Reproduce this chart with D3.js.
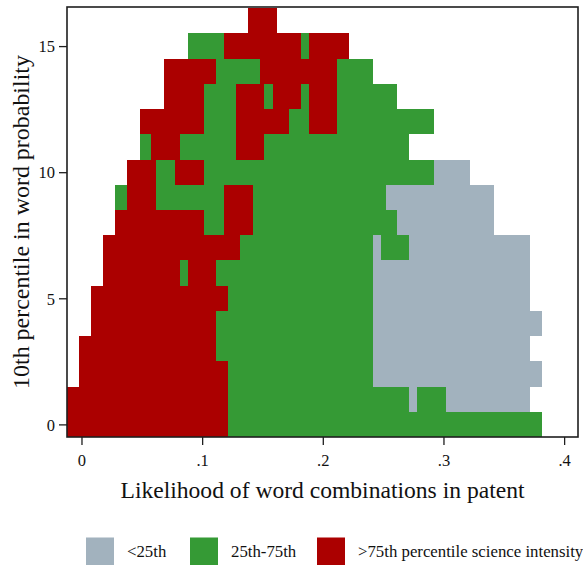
<!DOCTYPE html>
<html>
<head>
<meta charset="utf-8">
<script src="https://cdn.jsdelivr.net/npm/d3@7"></script>
<style>
  html, body { margin: 0; padding: 0; background: #fff; }
  svg { display: block; font-family: "Liberation Serif", "DejaVu Serif", serif; }
</style>
</head>
<body>
<svg id="chart" width="583" height="568"></svg>
<script>
// ---- data ----
const categories = ["<25th", "25th-75th", ">75th percentile science intensity"];
const categoryColors = ["#a2b2be", "#359a35", "#ab0000"];
const xTicks = [0, 0.1, 0.2, 0.3, 0.4];
const xTickLabels = ["0", ".1", ".2", ".3", ".4"];
const yTicks = [0, 5, 10, 15];
const yTickLabels = ["0", "5", "10", "15"];
const xTitle = "Likelihood of word combinations in patent";
const yTitle = "10th percentile in word probability";

// row value (y) -> segments [x start, x end, category index]
const rowValues = [0,1,2,3,4,5,6,7,8,9,10,11,12,13,14,15,16];
const rowSegments = [
  [[-0.012,0.1216,2],[0.1216,0.3819,1]],
  [[-0.012,0.1216,2],[0.1216,0.2716,1],[0.2716,0.2783,0],[0.2783,0.3018,1],[0.3018,0.3717,0]],
  [[-0.002,0.1216,2],[0.1216,0.2418,1],[0.2418,0.3819,0]],
  [[-0.002,0.1116,2],[0.1116,0.2418,1],[0.2418,0.3717,0]],
  [[0.0083,0.1116,2],[0.1116,0.2418,1],[0.2418,0.3819,0]],
  [[0.0083,0.1216,2],[0.1216,0.2418,1],[0.2418,0.3717,0]],
  [[0.0181,0.0815,2],[0.0815,0.0881,1],[0.0881,0.1116,2],[0.1116,0.2418,1],[0.2418,0.3717,0]],
  [[0.0181,0.1315,2],[0.1315,0.2418,1],[0.2418,0.2482,0],[0.2482,0.2716,1],[0.2716,0.3717,0]],
  [[0.0280,0.1014,2],[0.1014,0.1180,1],[0.1180,0.1418,2],[0.1418,0.2617,1],[0.2617,0.3419,0]],
  [[0.0280,0.0381,1],[0.0381,0.0614,2],[0.0614,0.1180,1],[0.1180,0.1418,2],[0.1418,0.2521,1],[0.2521,0.3419,0]],
  [[0.0381,0.0614,2],[0.0614,0.0779,1],[0.0779,0.1014,2],[0.1014,0.2919,1],[0.2919,0.3220,0]],
  [[0.0481,0.0580,1],[0.0580,0.0815,2],[0.0815,0.1279,1],[0.1279,0.1514,2],[0.1514,0.2716,1]],
  [[0.0481,0.1014,2],[0.1014,0.1279,1],[0.1279,0.1716,2],[0.1716,0.1885,1],[0.1885,0.2114,2],[0.2114,0.2919,1]],
  [[0.0685,0.1014,2],[0.1014,0.1279,1],[0.1279,0.1514,2],[0.1514,0.1584,1],[0.1584,0.1818,2],[0.1818,0.1885,1],[0.1885,0.2114,2],[0.2114,0.2617,1]],
  [[0.0685,0.1116,2],[0.1116,0.1478,1],[0.1478,0.2114,2],[0.2114,0.2418,1]],
  [[0.0884,0.1180,1],[0.1180,0.1818,2],[0.1818,0.1885,1],[0.1885,0.2219,2]],
  [[0.1381,0.1617,2]]
];

// ---- layout ----
const svg = d3.select("#chart");
const plot = { left: 67, right: 578, top: 7, bottom: 437 };
const x = d3.scaleLinear().domain([-0.012, 0.4115]).range([plot.left, plot.right]);
const y = d3.scaleLinear().domain([-0.5, 16.55]).range([plot.bottom, plot.top]);
const axisColor = "#1e1e1e";

const cells = [];
rowValues.forEach((rv, i) => {
  rowSegments[i].forEach(s => cells.push({ y: rv, x0: s[0], x1: s[1], c: s[2] }));
});

svg.append("g")
  .attr("shape-rendering", "crispEdges")
  .selectAll("rect")
  .data(cells)
  .join("rect")
  .attr("x", d => x(d.x0))
  .attr("width", d => x(d.x1) - x(d.x0))
  .attr("y", d => y(d.y + 0.5))
  .attr("height", d => y(d.y - 0.5) - y(d.y + 0.5))
  .attr("fill", d => categoryColors[d.c]);

// frame
svg.append("rect")
  .attr("x", plot.left).attr("y", plot.top)
  .attr("width", plot.right - plot.left).attr("height", plot.bottom - plot.top)
  .attr("fill", "none").attr("stroke", axisColor).attr("stroke-width", 1.6);

// axes
const xAxis = d3.axisBottom(x).tickValues(xTicks)
  .tickFormat((d, i) => xTickLabels[i]).tickSize(8).tickPadding(9);
const gx = svg.append("g").attr("transform", `translate(0,${plot.bottom})`).call(xAxis);
gx.select(".domain").remove();
gx.selectAll(".tick line").attr("stroke", axisColor).attr("stroke-width", 1.3);
gx.selectAll(".tick text").attr("fill", "#111").attr("font-size", 16.5)
  .attr("font-family", "Liberation Serif");

const yAxis = d3.axisLeft(y).tickValues(yTicks)
  .tickFormat((d, i) => yTickLabels[i]).tickSize(8).tickPadding(4);
const gy = svg.append("g").attr("transform", `translate(${plot.left},0)`).call(yAxis);
gy.select(".domain").remove();
gy.selectAll(".tick line").attr("stroke", axisColor).attr("stroke-width", 1.3);
gy.selectAll(".tick text").attr("fill", "#111").attr("font-size", 16.5)
  .attr("font-family", "Liberation Serif").attr("dy", "0.35em");

// axis titles
function fit(sel, target) {
  const w = sel.node().getComputedTextLength();
  const fs = parseFloat(sel.attr("font-size"));
  sel.attr("font-size", (fs * target / w).toFixed(2));
}
const xt = svg.append("text")
  .attr("x", (plot.left + plot.right) / 2).attr("y", 498)
  .attr("text-anchor", "middle").attr("font-size", 20).attr("fill", "#111")
  .text(xTitle);
fit(xt, 404);

const yt = svg.append("text")
  .attr("transform", `translate(29,${(plot.top + plot.bottom) / 2}) rotate(-90)`)
  .attr("text-anchor", "middle").attr("font-size", 20).attr("fill", "#111")
  .text(yTitle);
fit(yt, 334);

// legend
const legendX = [86, 190, 317];
const lg = svg.append("g");
categories.forEach((c, i) => {
  lg.append("rect").attr("x", legendX[i]).attr("y", 537.5)
    .attr("width", 28).attr("height", 27.5).attr("fill", categoryColors[i]);
  lg.append("text").attr("x", legendX[i] + 41).attr("y", 557)
    .attr("font-size", 16.8).attr("fill", "#111").text(c);
});
</script>
</body>
</html>
